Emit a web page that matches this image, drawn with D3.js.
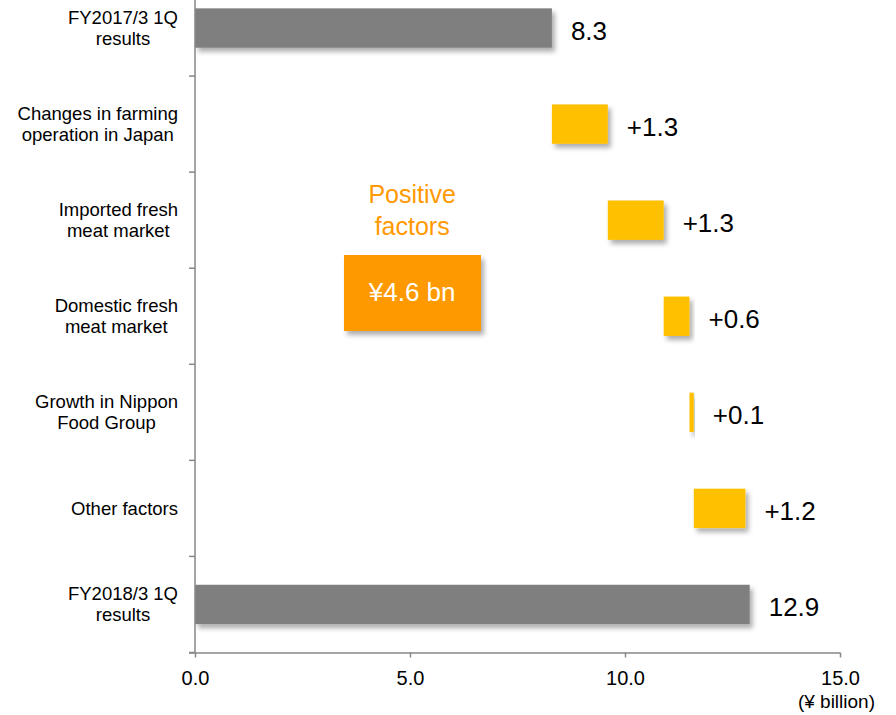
<!DOCTYPE html>
<html>
<head>
<meta charset="utf-8">
<script src="https://cdn.jsdelivr.net/npm/d3@7"></script>
<style>
  html, body { margin: 0; padding: 0; background: #fff; }
  svg { display: block; font-family: "Liberation Sans", Arial, sans-serif; }
</style>
</head>
<body>
<svg id="chart" width="896" height="715"></svg>
<script>
// Operating profit bridge, first quarter (¥ billion)
const categories = [
  ["FY2017/3 1Q", "results"],
  ["Changes in farming", "operation in Japan"],
  ["Imported fresh", "meat market"],
  ["Domestic fresh", "meat market"],
  ["Growth in Nippon", "Food Group"],
  ["Other factors"],
  ["FY2018/3 1Q", "results"]
];
const startValue = 8.3;
const factorValues = [1.3, 1.3, 0.6, 0.1, 1.2];
const endValue = 12.9;
const xTicks = [0, 5, 10, 15];
const unitLabel = "(¥ billion)";
const calloutTitle = ["Positive", "factors"];
const calloutValue = "¥4.6 bn";

// Build bar extents: totals start at zero, factors stack on the running sum
const bars = [];
bars.push({ key: 0, x0: 0, x1: startValue, kind: "total", label: d3.format(".1f")(startValue) });
let running = startValue;
factorValues.forEach((v, i) => {
  bars.push({ key: i + 1, x0: running, x1: running + v, kind: "factor", label: d3.format("+.1f")(v) });
  running += v;
});
bars.push({ key: categories.length - 1, x0: 0, x1: endValue, kind: "total", label: d3.format(".1f")(endValue) });

const svg = d3.select("#chart");
const axisLeft = 195, axisRight = 840, axisBottom = 652.5;

const x = d3.scaleLinear().domain([0, 15]).range([axisLeft, axisRight]);
const y = d3.scaleBand().domain(d3.range(categories.length)).range([-20, axisBottom]).padding(0);
const barH = y.bandwidth() * 0.41;

// Soft drop shadow under the bars and the callout box
const defs = svg.append("defs");
const f = defs.append("filter").attr("id", "shadow")
  .attr("x", "-10%").attr("y", "-30%").attr("width", "130%").attr("height", "180%");
f.append("feDropShadow").attr("dx", 3).attr("dy", 4).attr("stdDeviation", 2.8)
  .attr("flood-color", "#000").attr("flood-opacity", 0.32);

const axisColor = "#878787";

// Bars
svg.append("g").selectAll("rect").data(bars).join("rect")
  .attr("x", d => x(d.x0))
  .attr("y", d => y(d.key) + (y.bandwidth() - barH) / 2)
  .attr("width", d => Math.max(0, x(d.x1) - x(d.x0)))
  .attr("height", barH)
  .attr("fill", d => d.kind === "total" ? "#7F7F7F" : "#FFC000")
  .attr("filter", "url(#shadow)");

// Value labels
svg.append("g").selectAll("text").data(bars).join("text")
  .attr("x", d => x(d.x1) + 19)
  .attr("y", d => y(d.key) + y.bandwidth() / 2 + 11.5)
  .attr("font-size", 26)
  .attr("fill", "#000")
  .text(d => d.label);

// X axis
const xAxis = svg.append("g").attr("transform", `translate(0,${axisBottom})`)
  .call(d3.axisBottom(x).tickValues(xTicks).tickFormat(d3.format(".1f")).tickSize(5).tickSizeOuter(0));
xAxis.select(".domain").attr("stroke", axisColor).attr("stroke-width", 1.5)
  .attr("d", `M${axisLeft - 6},0.5H${axisRight}`);
xAxis.selectAll(".tick line").attr("stroke", axisColor).attr("stroke-width", 1.5);
xAxis.selectAll(".tick text").attr("font-size", 20).attr("fill", "#000")
  .attr("font-family", "Liberation Sans, Arial, sans-serif").attr("dy", null).attr("y", 32);

svg.append("text")
  .attr("x", 875).attr("y", 708)
  .attr("text-anchor", "end").attr("font-size", 19).attr("fill", "#000")
  .text(unitLabel);

// Y axis line with ticks on category boundaries
const yAxisG = svg.append("g");
yAxisG.append("line")
  .attr("x1", axisLeft).attr("x2", axisLeft).attr("y1", 0).attr("y2", axisBottom)
  .attr("stroke", axisColor).attr("stroke-width", 1.5);
const bounds = d3.range(1, categories.length + 1).map(i => y.range()[0] + i * y.step());
yAxisG.selectAll("line.tk").data(bounds).join("line").attr("class", "tk")
  .attr("x1", axisLeft - 6).attr("x2", axisLeft)
  .attr("y1", d => d).attr("y2", d => d)
  .attr("stroke", axisColor).attr("stroke-width", 1.5);

// Category labels: centred lines, block right-aligned beside the axis
const labelRight = 178, lineH = 21;
categories.forEach((lines, i) => {
  const g = svg.append("g");
  const cy = y(i) + y.bandwidth() / 2;
  const texts = lines.map((ln, j) => g.append("text")
    .attr("font-size", 18.5).attr("fill", "#000").attr("text-anchor", "middle")
    .attr("y", cy + 6.5 + (j - (lines.length - 1) / 2) * lineH)
    .text(ln));
  const maxW = d3.max(texts, t => t.node().getComputedTextLength());
  texts.forEach(t => t.attr("x", labelRight - maxW / 2));
});

// Callout: total of positive factors
const calloutX = x(5.05);
svg.append("g").selectAll("text").data(calloutTitle).join("text")
  .attr("x", calloutX).attr("y", (d, i) => 203 + i * 31.5)
  .attr("text-anchor", "middle").attr("font-size", 25).attr("fill", "#FF9900")
  .text(d => d);
svg.append("rect")
  .attr("x", 344).attr("y", 255).attr("width", 137).attr("height", 76)
  .attr("fill", "#FF9900").attr("filter", "url(#shadow)");
svg.append("text")
  .attr("x", calloutX).attr("y", 301)
  .attr("text-anchor", "middle").attr("font-size", 26).attr("fill", "#fff")
  .text(calloutValue);
</script>
</body>
</html>
